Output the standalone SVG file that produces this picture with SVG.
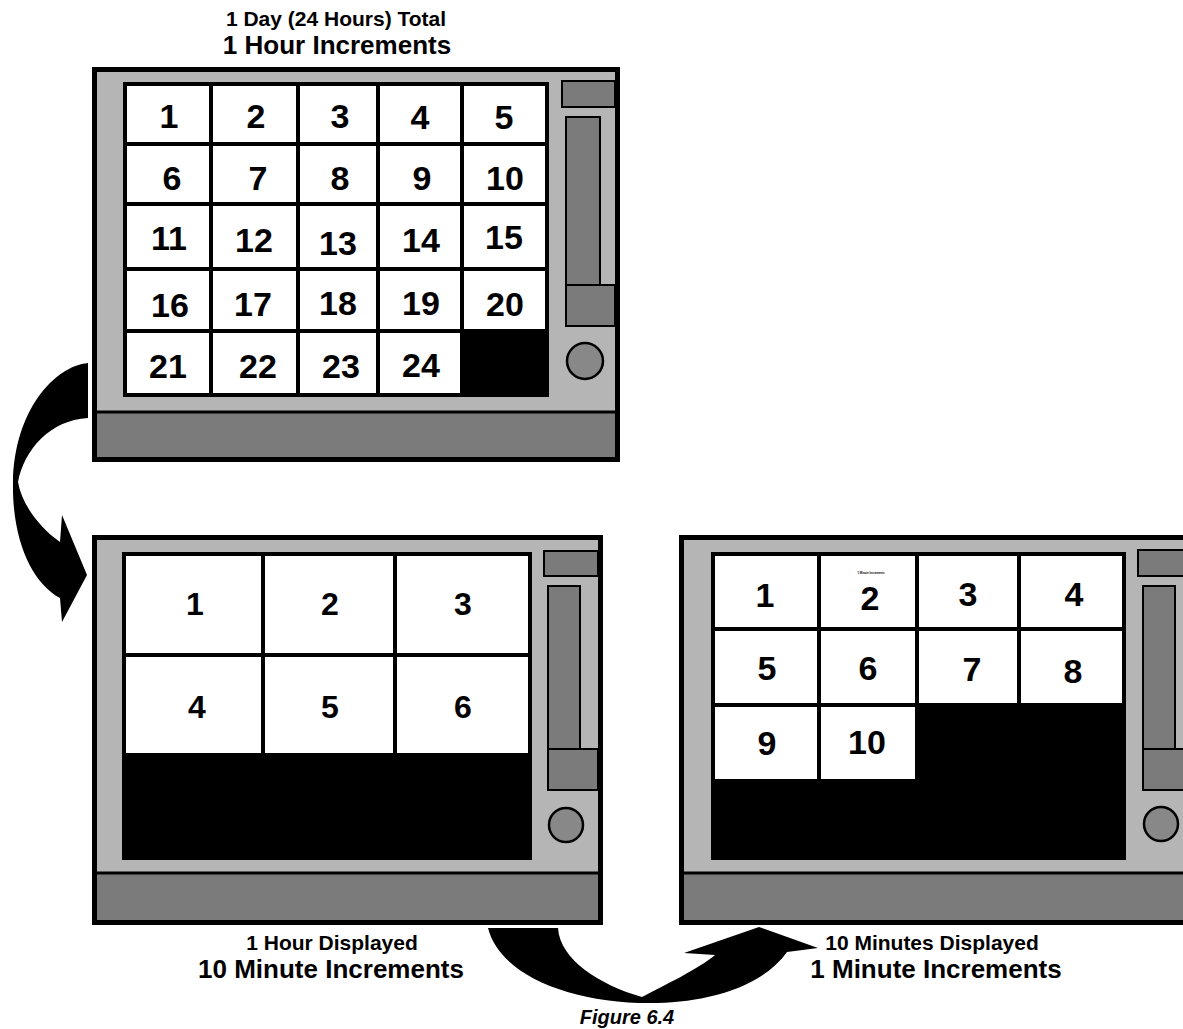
<svg xmlns="http://www.w3.org/2000/svg" width="1183" height="1029" viewBox="0 0 1183 1029">
<style>
.frame{fill:#b5b5b5;stroke:#000;stroke-width:5}
.bar{fill:#7b7b7b;stroke:#000;stroke-width:3}
.ctl{fill:#7b7b7b;stroke:#000;stroke-width:2}
.knob{fill:#888;stroke:#000;stroke-width:2.5}
.scr{fill:#fff;stroke:#000;stroke-width:4}
.gl{stroke:#000;stroke-width:4}
.blk{fill:#000}
.num{font-family:"Liberation Sans",Arial,sans-serif;font-weight:bold;text-anchor:middle;fill:#000}
.n34{font-size:34px}
.n32{font-size:32px}
.lbl{font-family:"Liberation Sans",Arial,sans-serif;font-weight:bold;text-anchor:middle;fill:#000}
.l1{font-size:21px}
.l2{font-size:26px}
</style>
<rect width="1183" height="1029" fill="#fff"/>

<g id="title-top">
<text class="lbl l1" x="336" y="26">1 Day (24 Hours) Total</text>
<text class="lbl l2" x="337" y="54">1 Hour Increments</text>
</g>

<g id="device-day">
<rect class="frame" x="94.5" y="69.5" width="523" height="390"/>
<rect class="bar" x="94" y="412" width="524" height="48"/>
<rect x="94.5" y="69.5" width="523" height="390" fill="none" stroke="#000" stroke-width="5"/>
<rect class="scr" x="125" y="84" width="422" height="311"/>
<line class="gl" x1="211" y1="82" x2="211" y2="397"/>
<line class="gl" x1="298" y1="82" x2="298" y2="397"/>
<line class="gl" x1="378" y1="82" x2="378" y2="397"/>
<line class="gl" x1="462" y1="82" x2="462" y2="397"/>
<line class="gl" x1="123" y1="144" x2="549" y2="144"/>
<line class="gl" x1="123" y1="204" x2="549" y2="204"/>
<line class="gl" x1="123" y1="269" x2="549" y2="269"/>
<line class="gl" x1="123" y1="331" x2="549" y2="331"/>
<rect class="blk" x="462" y="331" width="87" height="66"/>
<rect class="ctl" x="562" y="81" width="53" height="26"/>
<rect class="ctl" x="566" y="117" width="34" height="168"/>
<rect class="ctl" x="566" y="285" width="49" height="41"/>
<circle class="knob" cx="585" cy="361" r="18"/>
<text class="num n34" x="169" y="128">1</text>
<text class="num n34" x="256" y="128">2</text>
<text class="num n34" x="340" y="128">3</text>
<text class="num n34" x="420" y="129">4</text>
<text class="num n34" x="504" y="129">5</text>
<text class="num n34" x="172" y="190">6</text>
<text class="num n34" x="258" y="190">7</text>
<text class="num n34" x="340" y="190">8</text>
<text class="num n34" x="422" y="190">9</text>
<text class="num n34" x="505" y="190">10</text>
<text class="num n34" x="169" y="250">11</text>
<text class="num n34" x="254" y="252">12</text>
<text class="num n34" x="338" y="255">13</text>
<text class="num n34" x="421" y="252">14</text>
<text class="num n34" x="504" y="249">15</text>
<text class="num n34" x="170" y="317">16</text>
<text class="num n34" x="253" y="316">17</text>
<text class="num n34" x="338" y="315">18</text>
<text class="num n34" x="421" y="315">19</text>
<text class="num n34" x="505" y="316">20</text>
<text class="num n34" x="168" y="378">21</text>
<text class="num n34" x="258" y="378">22</text>
<text class="num n34" x="341" y="378">23</text>
<text class="num n34" x="421" y="377">24</text>
</g>

<g id="device-hour">
<rect class="frame" x="94.5" y="537.5" width="506" height="385"/>
<rect class="bar" x="94" y="873" width="507" height="50"/>
<rect x="94.5" y="537.5" width="506" height="385" fill="none" stroke="#000" stroke-width="5"/>
<rect class="scr" x="124" y="554" width="406" height="304"/>
<rect class="blk" x="122" y="753" width="410" height="107"/>
<line class="gl" x1="263" y1="552" x2="263" y2="753"/>
<line class="gl" x1="395" y1="552" x2="395" y2="753"/>
<line class="gl" x1="122" y1="655" x2="532" y2="655"/>
<rect class="ctl" x="544" y="551" width="54" height="25"/>
<rect class="ctl" x="548" y="586" width="32" height="163"/>
<rect class="ctl" x="548" y="749" width="50" height="41"/>
<circle class="knob" cx="566" cy="825" r="17"/>
<text class="num n32" x="195" y="615">1</text>
<text class="num n32" x="330" y="615">2</text>
<text class="num n32" x="463" y="615">3</text>
<text class="num n32" x="197" y="718">4</text>
<text class="num n32" x="330" y="718">5</text>
<text class="num n32" x="463" y="718">6</text>
</g>

<g id="label-hour">
<text class="lbl l1" x="332" y="950">1 Hour Displayed</text>
<text class="lbl l2" x="331" y="978">10 Minute Increments</text>
</g>

<g id="device-minutes">
<rect class="frame" x="681.5" y="537.5" width="510" height="385"/>
<rect class="bar" x="681" y="873" width="511" height="50"/>
<rect x="681.5" y="537.5" width="510" height="385" fill="none" stroke="#000" stroke-width="5"/>
<rect class="scr" x="713" y="554" width="411" height="304"/>
<rect class="blk" x="917" y="705" width="209" height="155"/>
<rect class="blk" x="711" y="779" width="208" height="81"/>
<line class="gl" x1="819" y1="552" x2="819" y2="779"/>
<line class="gl" x1="917" y1="552" x2="917" y2="779"/>
<line class="gl" x1="1019" y1="552" x2="1019" y2="705"/>
<line class="gl" x1="711" y1="629" x2="1126" y2="629"/>
<line class="gl" x1="711" y1="705" x2="1126" y2="705"/>
<rect class="ctl" x="1138" y="550" width="52" height="26"/>
<rect class="ctl" x="1143" y="586" width="32" height="163"/>
<rect class="ctl" x="1143" y="749" width="50" height="41"/>
<circle class="knob" cx="1161" cy="824" r="17"/>
<text class="lbl" x="871" y="574" font-size="2.8" fill="#333">1 Minute Increments</text>
<text class="num n34" x="765" y="607">1</text>
<text class="num n34" x="870" y="610">2</text>
<text class="num n34" x="968" y="606">3</text>
<text class="num n34" x="1074" y="606">4</text>
<text class="num n34" x="767" y="680">5</text>
<text class="num n34" x="868" y="680">6</text>
<text class="num n34" x="972" y="681">7</text>
<text class="num n34" x="1073" y="683">8</text>
<text class="num n34" x="767" y="755">9</text>
<text class="num n34" x="867" y="754">10</text>
</g>

<g id="label-minutes">
<text class="lbl l1" x="932" y="950">10 Minutes Displayed</text>
<text class="lbl l2" x="936" y="978">1 Minute Increments</text>
</g>

<g id="connectors">
<path id="arrow-day-to-hour" class="blk" d="M88,363 C55,366 14,410 13,483 C12,540 32,583 60,598 L62,622 L87,575 L62,515 L60,542 C40,528 22,505 18,482 C24,450 50,420 88,418 Z"/>
<path id="arrow-hour-to-minutes" class="blk" d="M488,928 L558,928 C560,960 600,985 642,997 C665,985 700,968 715,955 L684,953 L759,927 L818,948 L787,952 C760,990 700,1003 650,1003 C570,1003 500,975 488,928 Z"/>
</g>

<g id="caption">
<text x="627" y="1024" font-family="Liberation Sans, Arial, sans-serif" font-weight="bold" font-style="italic" font-size="20" text-anchor="middle">Figure 6.4</text>
</g>
</svg>
